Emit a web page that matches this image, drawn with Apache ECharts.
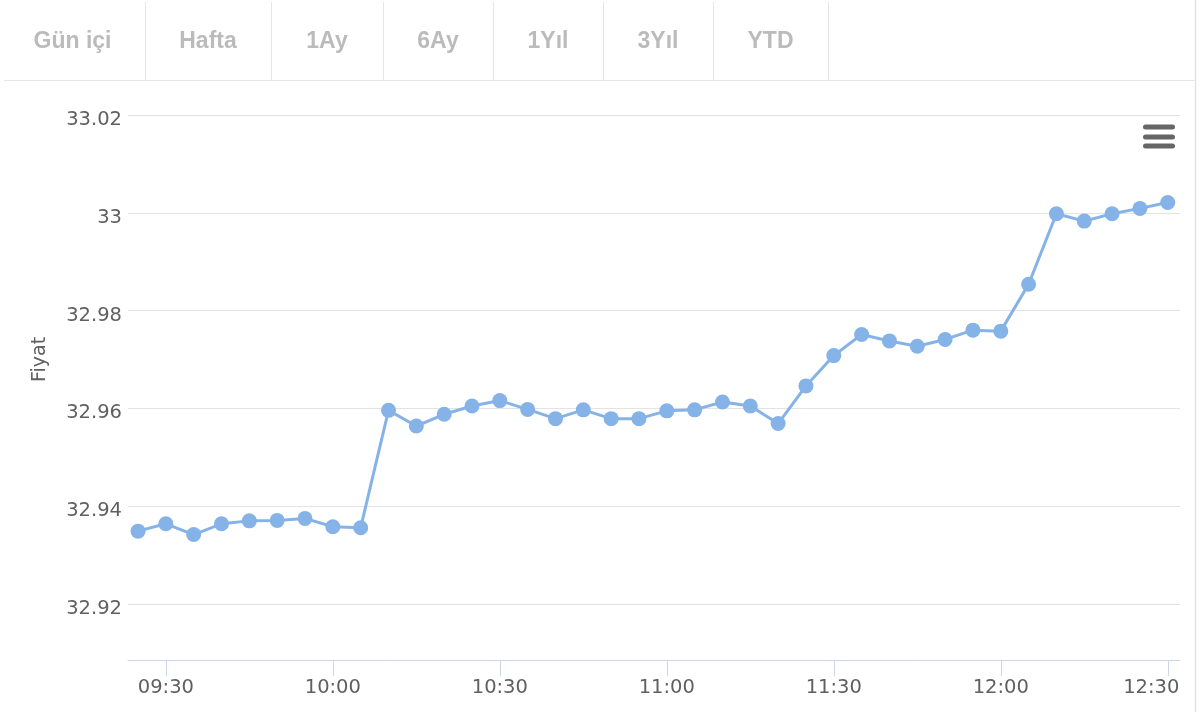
<!DOCTYPE html>
<html>
<head>
<meta charset="utf-8">
<script src="https://cdn.jsdelivr.net/npm/echarts@6/dist/echarts.min.js"></script>
<style>
html,body{margin:0;padding:0;background:#fff;}
#chart{width:1200px;height:712px;}
</style>
</head>
<body>
<div id="chart"></div>
<script>
const tabs = ["Gün içi", "Hafta", "1Ay", "6Ay", "1Yıl", "3Yıl", "YTD"];
const times = ["09:25","09:30","09:35","09:40","09:45","09:50","09:55","10:00","10:05",
  "10:10","10:15","10:20","10:25","10:30","10:35","10:40","10:45","10:50","10:55",
  "11:00","11:05","11:10","11:15","11:20","11:25","11:30","11:35","11:40","11:45",
  "11:50","11:55","12:00","12:05","12:10","12:15","12:20","12:25","12:30"];
const prices = [32.9349,32.9364,32.9342,32.9364,32.9370,32.9371,32.9375,32.9358,32.9356,
  32.9596,32.9564,32.9588,32.9605,32.9616,32.9598,32.9579,32.9597,32.9579,32.9579,
  32.9595,32.9597,32.9613,32.9605,32.9569,32.9646,32.9708,32.9751,32.9738,32.9727,
  32.9741,32.9760,32.9758,32.9854,32.9998,32.9983,32.9998,33.0009,33.0021];
const xTickLabels = ["09:30","10:00","10:30","11:00","11:30","12:00","12:30"];

function toMin(t){ const p = t.split(":"); return (+p[0])*60 + (+p[1]); }
function fmt(m){ const h = Math.floor(m/60), mm = Math.round(m - h*60);
  return (h<10?"0":"")+h+":"+(mm<10?"0":"")+mm; }

const seriesData = times.map((t,i)=>[toMin(t), prices[i]]);
const xTickValues = xTickLabels.map(toMin);
const lastTick = xTickValues[xTickValues.length - 1];

// tab bar graphics
const sepX = [145, 271, 383, 493, 603, 713, 828];
const graphics = [];
let prev = 0;
tabs.forEach((t,i)=>{
  const cx = (prev + sepX[i]) / 2;
  graphics.push({type:'text', x: cx, y: 42,
    style:{text:t, fill:'#bbbbbb', font:'bold 23px "Liberation Sans", Arial, sans-serif',
      align:'center', verticalAlign:'middle'}});
  prev = sepX[i];
});
sepX.forEach(x=>{
  graphics.push({type:'line', shape:{x1:x+0.5,y1:2,x2:x+0.5,y2:80},
    style:{stroke:'#e6e6e6', lineWidth:1}});
});
graphics.push({type:'line', shape:{x1:4,y1:80.5,x2:1196,y2:80.5}, style:{stroke:'#e6e6e6', lineWidth:1}});
graphics.push({type:'line', shape:{x1:1195.5,y1:0,x2:1195.5,y2:712}, style:{stroke:'#e3e3e3', lineWidth:1.5}});
// context menu icon
[127, 137, 146].forEach(y=>{
  graphics.push({type:'rect', shape:{x:1143, y:y-2.5, width:32, height:5, r:2.5},
    style:{fill:'#666666'}});
});

const chart = echarts.init(document.getElementById('chart'), null, {renderer:'canvas'});
chart.setOption({
  animation: false,
  backgroundColor: '#ffffff',
  grid: {left: 128, right: 20, top: 115, bottom: 108, containLabel: false},
  xAxis: {
    type: 'value',
    min: toMin("09:23") + 0.2,
    max: toMin("12:32") + 0.2,
    offset: 56,
    axisLine: {show: true, lineStyle: {color: '#ccd6eb', width: 1}},
    axisTick: {show: true, length: 16, lineStyle: {color: '#ccd6eb'}, customValues: xTickValues},
    axisLabel: {color: '#606060', fontSize: 19.5, fontFamily: 'DejaVu Sans', margin: 18,
      customValues: xTickValues,
      formatter: v => Math.abs(v - lastTick) < 0.01 ? '{r|' + fmt(v) + '}' : fmt(v),
      rich: {r: {color: '#606060', fontSize: 19.5, fontFamily: 'DejaVu Sans', padding: [0, 33, 0, 0]}}},
    splitLine: {show: false}
  },
  yAxis: {
    type: 'value',
    min: 32.92, max: 33.02, interval: 0.02,
    name: 'Fiyat',
    nameLocation: 'middle',
    nameRotate: 90,
    nameGap: 78,
    nameTextStyle: {color: '#606060', fontSize: 19, fontFamily: 'DejaVu Sans'},
    axisLine: {show: false},
    axisTick: {show: false},
    axisLabel: {margin: 6,
      formatter: v => '{a|' + String(Math.round(v*100)/100) + '}',
      rich: {a: {color: '#606060', fontSize: 19.5, fontFamily: 'DejaVu Sans', padding: [10, 0, 0, 0]}}},
    splitLine: {show: true, lineStyle: {color: '#e3e3e3', width: 1}}
  },
  series: [{
    type: 'line',
    data: seriesData,
    symbol: 'circle',
    symbolSize: 15,
    showAllSymbol: true,
    clip: false,
    lineStyle: {color: '#85b3e8', width: 3},
    itemStyle: {color: '#85b3e8'}
  }],
  graphic: graphics
});
</script>
</body>
</html>
